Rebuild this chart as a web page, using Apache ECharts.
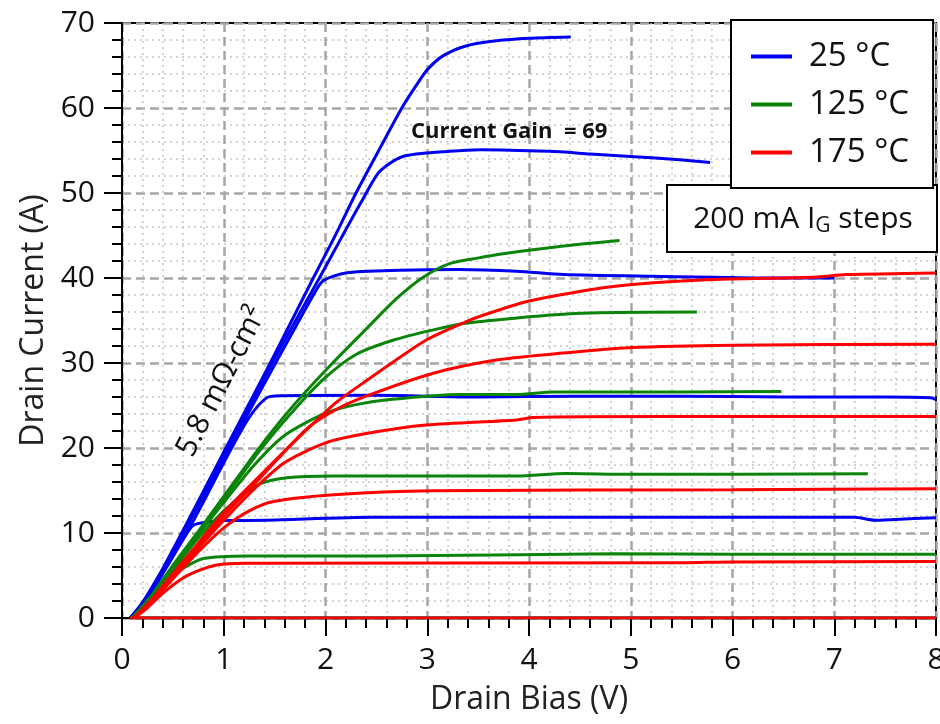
<!DOCTYPE html>
<html>
<head>
<meta charset="utf-8">
<script src="https://cdn.jsdelivr.net/npm/echarts/dist/echarts.min.js"></script>
<style>
  html, body { margin: 0; padding: 0; background: #fff; }
  #chart { width: 940px; height: 724px; }
</style>
</head>
<body>
<div id="chart"></div>
<script>
// Drain current (A) vs drain bias (V), one curve per base current step

const FONT = "'Open Sans', 'Liberation Sans', sans-serif";

const TEMPS = ['25 °C', '125 °C', '175 °C'];
const COLORS = ['#0000f0', '#0a850a', '#ff0000'];

// 25 °C
const blue1 = [[0.08,0],[0.2,1.8],[0.4,5.8],[0.6,10.3],[0.83,15.6],[1.2,24.1],[1.5,31],[1.88,40],[2.1,45.1],[2.3,50],[2.55,55.6],[2.75,60],[2.9,62.8],[3.0,64.5],[3.15,66.1],[3.38,67.3],[3.68,67.9],[4.0,68.2],[4.41,68.35]];
const blue2 = [[0.08,0],[0.2,1.7],[0.4,5.6],[0.6,10.1],[0.85,15.7],[1.2,23.7],[1.5,30.5],[1.94,40],[2.15,44.6],[2.35,48.9],[2.53,52.5],[2.76,54.3],[3.22,54.9],[3.52,55.1],[4.2,54.9],[4.6,54.6],[5.0,54.3],[5.48,53.9],[5.78,53.6]];
const blue3 = [[0.08,0],[0.2,1.6],[0.4,5.5],[0.6,9.9],[0.85,15.4],[1.2,23.2],[1.5,29.8],[1.75,35.2],[1.9,38.4],[1.98,39.7],[2.2,40.6],[2.73,40.9],[3.3,41],[3.88,40.8],[4.34,40.4],[5.22,40.2],[6.46,40.0],[7.0,40.0]];
const blue4 = [[0.1,0],[0.25,2.3],[0.45,6.3],[0.7,11.4],[1.06,19.6],[1.25,23.6],[1.42,25.9],[1.55,26.15],[2.5,26.2],[3.5,26.0],[4.5,26.1],[5.5,26.1],[6.5,26.0],[7.5,26.0],[7.95,25.9],[8,25.7]];
const blue5 = [[0.1,0],[0.25,2.3],[0.45,6.2],[0.6,9.2],[0.7,10.9],[0.85,11.3],[1.01,11.46],[1.42,11.5],[2.47,11.85],[4,11.85],[5.85,11.85],[7.2,11.85],[7.4,11.5],[7.6,11.6],[8,11.8]];

// 125 °C
const green1 = [[0.1,0],[0.3,2.8],[0.5,6.2],[0.75,10.2],[1.0,14.3],[1.36,20.2],[1.7,25.2],[2.07,30],[2.4,34],[2.7,37.6],[2.96,40.1],[3.22,41.7],[3.52,42.4],[3.71,42.8],[4.3,43.7],[4.89,44.4]];
const green2 = [[0.1,0],[0.3,2.7],[0.5,6],[0.75,10],[1.0,14],[1.36,19.8],[1.7,24.6],[2.0,28.3],[2.3,31],[2.67,32.7],[3.06,33.9],[3.39,34.7],[3.88,35.3],[4.3,35.7],[4.69,35.9],[5.65,36.0]];
const green3 = [[0.1,0],[0.3,2.6],[0.5,5.9],[0.75,9.8],[1.0,13.6],[1.3,18],[1.6,21.5],[2.0,24.1],[2.3,25.1],[2.63,25.7],[3.32,26.3],[3.88,26.3],[4.24,26.6],[5.5,26.6],[6.48,26.65]];
const green4 = [[0.1,0],[0.3,2.5],[0.5,5.6],[0.75,9.4],[1.0,12.6],[1.2,14.6],[1.36,15.8],[1.62,16.5],[2.08,16.7],[3.88,16.7],[4.36,17.0],[5.0,16.9],[7.33,16.96]];
const green5 = [[0.1,0],[0.25,1.8],[0.44,4.5],[0.6,5.85],[0.8,7.0],[1.23,7.3],[2.5,7.3],[4.83,7.55],[6.0,7.5],[8,7.5]];

// 175 °C
const red1 = [[0.12,0],[0.3,2.3],[0.5,5.2],[0.75,8.8],[1.0,12.4],[1.36,16.8],[1.75,21.4],[2.1,25.3],[2.4,27.9],[2.99,32.7],[3.39,34.9],[3.52,35.5],[4.0,37.3],[4.83,39.0],[5.74,39.8],[6.79,40.1],[7.12,40.4],[8,40.6]];
const red2 = [[0.12,0],[0.3,2.2],[0.5,5],[0.75,8.5],[1.0,12],[1.36,16.5],[1.81,22.2],[2.1,24.5],[2.4,26.1],[3.06,28.8],[3.71,30.4],[4.36,31.2],[4.98,31.8],[6.0,32.1],[8,32.2]];
const red3 = [[0.12,0],[0.3,2.1],[0.5,4.8],[0.75,8.2],[1.0,11.5],[1.3,15.2],[1.6,18.3],[2.0,20.6],[2.4,21.7],[2.99,22.7],[3.88,23.3],[4.04,23.6],[5.35,23.7],[8,23.7]];
const red4 = [[0.12,0],[0.3,2],[0.5,4.6],[0.75,7.8],[1.0,10.6],[1.25,12.6],[1.49,13.7],[2.08,14.5],[3.06,14.96],[6.0,15.1],[8,15.2]];
const red5 = [[0.12,0],[0.25,1.2],[0.4,2.9],[0.6,4.7],[0.77,5.65],[0.93,6.24],[1.2,6.45],[5.5,6.5],[6.0,6.6],[8,6.65]];

// off-state curves (zero current)
const zeroLine = [[0.08,0],[8,0]];

const CURVES = [
  [blue1, blue2, blue3, blue4, blue5, zeroLine],
  [green1, green2, green3, green4, green5, zeroLine],
  [red1, red2, red3, red4, red5, zeroLine],
];

const GAIN_LABEL = 'Current Gain  = 69';
const GAIN_AT = [2.84, 57.2];
const RON_LABEL = '5.8 mΩ-cm²';
const RON_AT = [0.98, 27.8];

const chart = echarts.init(document.getElementById('chart'));

const series = [];
CURVES.forEach((group, t) => {
  group.forEach(curve => {
    series.push({
      type: 'line',
      name: TEMPS[t],
      data: curve,
      showSymbol: false,
      smooth: 0.25,
      silent: true,
      z: 2 + t,
      lineStyle: { color: COLORS[t], width: 3 },
      itemStyle: { color: COLORS[t] },
    });
  });
});

const axisCommon = {
  axisLine: { show: true, lineStyle: { color: '#000', width: 2 } },
  axisTick: { show: true, inside: false, length: 18, lineStyle: { color: '#000', width: 2 } },
  minorTick: { show: true, splitNumber: 5, length: 10, lineStyle: { color: '#000', width: 2 } },
  splitLine: { show: true, lineStyle: { color: '#a6a6a6', type: [9, 5], width: 2.5 } },
  minorSplitLine: { show: true, lineStyle: { color: '#c6c6c6', type: [2, 4], width: 1.5 } },
  nameLocation: 'middle',
  nameMoveOverlap: false,
  nameTextStyle: { fontFamily: FONT, fontSize: 32, color: '#222' },
};

chart.setOption({
  animation: false,
  backgroundColor: '#fff',
  grid: {
    left: 122, right: 4, top: 23, bottom: 106,
    show: true, borderColor: '#000', borderWidth: 2,
    containLabel: false, outerBoundsMode: 'none',
  },
  xAxis: Object.assign({}, axisCommon, {
    type: 'value', min: 0, max: 8, interval: 1,
    name: 'Drain Bias (V)', nameGap: 66,
    axisLabel: { fontFamily: FONT, fontSize: 30, color: '#111', margin: 27, showMaxLabel: true, showMinLabel: true },
  }),
  yAxis: Object.assign({}, axisCommon, {
    type: 'value', min: 0, max: 70, interval: 10,
    name: 'Drain Current (A)', nameGap: 72,
    axisLabel: { fontFamily: FONT, fontSize: 30, color: '#111', margin: 27 },
  }),
  legend: {
    data: TEMPS,
    orient: 'vertical',
    left: 731, top: 20,
    padding: [20, 24, 19, 20],
    itemGap: 15,
    itemWidth: 41, itemHeight: 4,
    icon: 'rect',
    selectedMode: false,
    backgroundColor: '#fff',
    borderColor: '#000', borderWidth: 2, borderRadius: 0,
    z: 100,
    textStyle: { fontFamily: FONT, fontSize: 33, color: '#111', padding: [0, 0, 0, 12] },
  },
  series: series,
});

// annotations placed in data coordinates
const gainPx = chart.convertToPixel({ gridIndex: 0 }, GAIN_AT);
const ronPx = chart.convertToPixel({ gridIndex: 0 }, RON_AT);

chart.setOption({
  graphic: [
    {
      type: 'text', x: gainPx[0], y: gainPx[1], silent: true,
      style: { text: GAIN_LABEL, fontFamily: FONT, fontSize: 22, fontWeight: 'bold', fill: '#111', align: 'left', verticalAlign: 'middle' },
    },
    {
      type: 'text', x: ronPx[0], y: ronPx[1], rotation: 63 * Math.PI / 180, silent: true,
      style: { text: RON_LABEL, fontFamily: FONT, fontSize: 30, fill: '#111', align: 'center', verticalAlign: 'middle' },
    },
    {
      type: 'rect', silent: true,
      shape: { x: 667, y: 185, width: 270, height: 67 },
      style: { fill: '#fff', stroke: '#000', lineWidth: 2 },
    },
    {
      type: 'text', x: 803, y: 219, silent: true,
      style: {
        text: '{m|200 mA I}{s|G}{m| steps}',
        align: 'center', verticalAlign: 'middle',
        rich: {
          m: { fontFamily: FONT, fontSize: 30, lineHeight: 36, fill: '#111' },
          s: { fontFamily: FONT, fontSize: 21, lineHeight: 24, verticalAlign: 'bottom', fill: '#111' },
        },
      },
    },
  ],
});
</script>
</body>
</html>
